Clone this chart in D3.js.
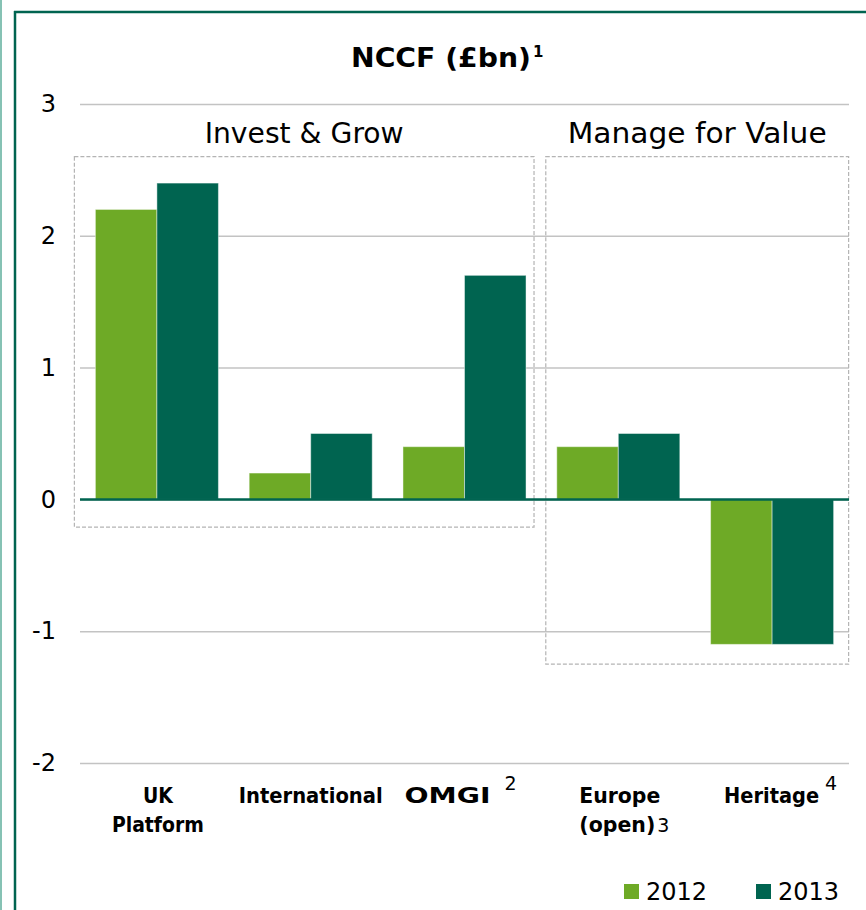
<!DOCTYPE html>
<html>
<head>
<meta charset="utf-8">
<script src="https://cdn.jsdelivr.net/npm/d3@7"></script>
<style>
  body { margin: 0; background: #fff; }
  svg { display: block; }
  text { font-family: "Century Gothic", "URW Gothic", "DejaVu Sans", sans-serif; fill: #000; }
</style>
</head>
<body>
<script>
// chart data
var categories = ["UK Platform", "International", "OMGI", "Europe (open)", "Heritage"];
var categoryLines = [["UK", "Platform"], ["International"], ["OMGI"], ["Europe", "(open)"], ["Heritage"]];
var categoryNotes = ["", "", "2", "3", "4"];
var years = ["2012", "2013"];
var values2012 = [2.2, 0.2, 0.4, 0.4, -1.1];
var values2013 = [2.4, 0.5, 1.7, 0.5, -1.1];
var yTicks = [-2, -1, 0, 1, 2, 3];
var groupLabels = ["Invest & Grow", "Manage for Value"];
var groupCategories = [["UK Platform", "OMGI"], ["Europe (open)", "Heritage"]];

var width = 866, height = 910;
var colors = { "2012": "#6eaa26", "2013": "#006450" };

var svg = d3.select("body").append("svg")
    .attr("width", width)
    .attr("height", height);

// outer frame lines
svg.append("rect").attr("x", 0).attr("y", 0).attr("width", 2).attr("height", height).attr("fill", "#86c2b4");
svg.append("line").attr("x1", 15).attr("x2", 15).attr("y1", 11).attr("y2", height)
    .attr("stroke", "#006450").attr("stroke-width", 2.5);
svg.append("line").attr("x1", 14).attr("x2", width).attr("y1", 12).attr("y2", 12)
    .attr("stroke", "#006450").attr("stroke-width", 2.5);

var x = d3.scaleBand()
    .domain(categories)
    .range([80, 849])
    .paddingInner(0.2)
    .paddingOuter(0.1);

var xs = d3.scaleBand()
    .domain(years)
    .range([0, x.bandwidth()]);

var y = d3.scaleLinear()
    .domain([-2, 3])
    .range([763, 104]);

// gridlines + tick labels (plain hyphen for negatives)
var yAxis = d3.axisLeft(y)
    .tickValues(yTicks)
    .tickSize(-(849 - 80))
    .tickFormat(function(d) { return String(d); });

var gAxis = svg.append("g")
    .attr("transform", "translate(80,0)")
    .call(yAxis);
gAxis.select(".domain").remove();
gAxis.selectAll(".tick line").attr("stroke", "#c3c3c3").attr("stroke-width", 1.5);
gAxis.selectAll(".tick text")
    .attr("font-size", 24)
    .attr("font-family", null)
    .attr("fill", "#000")
    .attr("x", -24);

// dashed group boxes
var boxPad = [[-21, 8, 2.6, -0.21], [-11, 15, 2.6, -1.25]];
var groupWidths = [199, 259];
groupCategories.forEach(function(gc, i) {
    var x0 = x(gc[0]) + boxPad[i][0],
        x1 = x(gc[1]) + x.bandwidth() + boxPad[i][1],
        y0 = y(boxPad[i][2]),
        y1 = y(boxPad[i][3]);
    svg.append("rect")
        .attr("x", x0).attr("y", y0)
        .attr("width", x1 - x0).attr("height", y1 - y0)
        .attr("fill", "none")
        .attr("stroke", "#b4b4b4")
        .attr("stroke-width", 1.2)
        .attr("stroke-dasharray", "4,2");
    svg.append("text")
        .attr("x", (x0 + x1) / 2 - groupWidths[i] / 2)
        .attr("y", 143)
        .attr("font-size", 28)
        .attr("textLength", groupWidths[i])
        .attr("lengthAdjust", "spacingAndGlyphs")
        .text(groupLabels[i]);
});

// bars
var series = [values2012, values2013];
years.forEach(function(yr, si) {
    svg.append("g").selectAll("rect")
        .data(series[si])
        .join("rect")
        .attr("x", function(d, i) { return x(categories[i]) + xs(yr); })
        .attr("y", function(d) { return y(Math.max(0, d)); })
        .attr("width", xs.bandwidth())
        .attr("height", function(d) { return Math.abs(y(d) - y(0)); })
        .attr("fill", colors[yr])
        .attr("stroke", "rgba(255,255,255,0.45)")
        .attr("stroke-width", 1);
});

// zero line
svg.append("line")
    .attr("x1", 80).attr("x2", 849)
    .attr("y1", y(0)).attr("y2", y(0))
    .attr("stroke", "#006450")
    .attr("stroke-width", 2.5);

// category labels: left offset from band centre and line widths
var labelLeft = [-28, -72, -60, -39, -48];
var labelWidths = [[30, 92], [144], [86], [81, 76], [95]];
categories.forEach(function(c, i) {
    var cx = x(c) + x.bandwidth() / 2;
    var lines = categoryLines[i];
    var t = svg.append("text")
        .attr("font-size", 21.5)
        .attr("font-weight", "bold");
    lines.forEach(function(l, j) {
        var lx = cx + labelLeft[i];
        if (i === 0) lx = cx + 1 - labelWidths[i][j] / 2;
        t.append("tspan")
            .attr("x", lx)
            .attr("y", 803 + j * 29)
            .attr("textLength", labelWidths[i][j])
            .attr("lengthAdjust", "spacingAndGlyphs")
            .text(l);
    });
    if (categoryNotes[i]) {
        // footnote marker as its own text, just after the last line
        var last = lines.length - 1;
        var nx = cx + labelLeft[i] + labelWidths[i][last];
        var isEurope = c === "Europe (open)";
        svg.append("text")
            .attr("x", nx + (isEurope ? 2 : (c === "OMGI" ? 14 : 6)))
            .attr("y", isEurope ? 803 + last * 29 : 790)
            .attr("font-size", 19)
            .text(categoryNotes[i]);
    }
});

// title
var title = svg.append("text")
    .attr("x", 351).attr("y", 67)
    .attr("font-size", 26)
    .attr("font-weight", "bold");
title.append("tspan").attr("textLength", 180).attr("lengthAdjust", "spacingAndGlyphs").text("NCCF (£bn)");
title.append("tspan").attr("font-size", 15).attr("dx", 2).attr("dy", -10).text("1");

// legend
var legendX = [624, 756];
years.forEach(function(yr, i) {
    var g = svg.append("g").attr("transform", "translate(" + legendX[i] + ",884)");
    g.append("rect").attr("width", 15).attr("height", 15).attr("fill", colors[yr]);
    g.append("text").attr("x", 22).attr("y", 16).attr("font-size", 24).text(yr);
});
</script>
</body>
</html>
